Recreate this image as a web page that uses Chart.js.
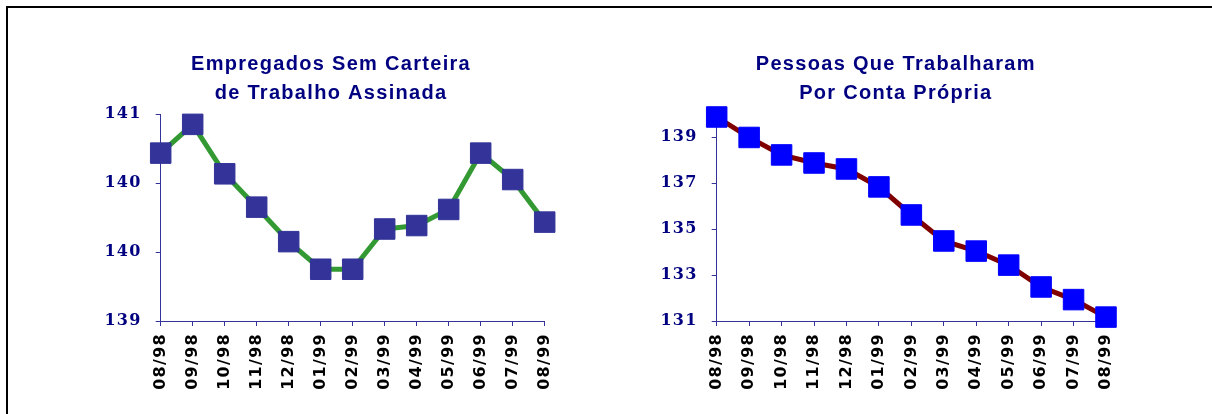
<!DOCTYPE html>
<html>
<head>
<meta charset="utf-8">
<title>Empregados Sem Carteira / Conta Própria</title>
<script src="https://cdn.jsdelivr.net/npm/chart.js@4.4.0/dist/chart.umd.min.js"></script>
<style>
    html, body { margin: 0; padding: 0; background: #fff; }
    body { width: 1212px; height: 414px; position: relative; overflow: hidden; }
    #frame {
        position: absolute; left: 6px; top: 6px; width: 1300px; height: 500px;
        border-top: 2px solid #000; border-left: 2px solid #000;
    }
    .box { position: absolute; top: 0; width: 606px; height: 414px; }
    #left-box { left: 0; }
    #right-box { left: 606px; }
</style>
</head>
<body>
<div id="frame"></div>
<div class="box" id="left-box"><canvas id="chart-left" width="606" height="414"></canvas></div>
<div class="box" id="right-box"><canvas id="chart-right" width="606" height="414"></canvas></div>
<script>
// Data
const months = ['08/98', '09/98', '10/98', '11/98', '12/98', '01/99', '02/99',
    '03/99', '04/99', '05/99', '06/99', '07/99', '08/99'];
const semCarteira = [140.46, 140.71, 140.28, 139.99, 139.69, 139.45, 139.45,
    139.80, 139.83, 139.97, 140.46, 140.23, 139.86];
const contaPropria = [139.87, 138.98, 138.22, 137.87, 137.61, 136.83, 135.61,
    134.48, 134.04, 133.43, 132.48, 131.93, 131.17];
const leftTicks = [139.0, 139.6, 140.2, 140.8];
const rightTicks = [131, 133, 135, 137, 139];
const leftTitle = ['Empregados Sem Carteira', 'de Trabalho Assinada'];
const rightTitle = ['Pessoas Que Trabalharam', 'Por Conta Própria'];

const NAVY = '#000080';
const AXIS = '#333399';

// Excel-like wide lettering
const spacingPlugin = {
    id: 'spacing',
    beforeDraw(chart) {
        if ('letterSpacing' in chart.ctx) chart.ctx.letterSpacing = '1.3px';
    }
};

function makeChart(id, opts) {
    const ctx = document.getElementById(id).getContext('2d');
    return new Chart(ctx, {
        type: 'line',
        data: {
            labels: months,
            datasets: [{
                data: opts.values,
                borderColor: opts.lineColor,
                borderWidth: 5,
                tension: 0,
                pointStyle: 'rect',
                pointRadius: 14.5,
                pointHoverRadius: 14.5,
                pointBackgroundColor: opts.markerColor,
                pointBorderColor: opts.markerColor,
                pointBorderWidth: 1,
                clip: false
            }]
        },
        options: {
            responsive: false,
            animation: false,
            layout: { padding: opts.padding },
            plugins: {
                legend: { display: false },
                tooltip: { enabled: false },
                title: {
                    display: true,
                    text: opts.title,
                    color: NAVY,
                    font: { family: 'Arial, "Liberation Sans", sans-serif', size: 20, weight: 'bold', lineHeight: 1.45 },
                    padding: { top: 50, bottom: 6 }
                }
            },
            scales: {
                x: {
                    offset: false,
                    grid: { display: true, drawOnChartArea: false, drawTicks: true, tickLength: 5, color: AXIS },
                    border: { display: true, color: AXIS, width: 1 },
                    ticks: {
                        autoSkip: false,
                        minRotation: 90,
                        maxRotation: 90,
                        padding: 7,
                        color: '#000',
                        font: { family: '"DejaVu Sans", sans-serif', size: 16, weight: 'bold' }
                    },
                    afterFit: (scale) => { scale.height = 80; }
                },
                y: {
                    min: opts.min,
                    max: opts.max,
                    grid: { display: true, drawOnChartArea: false, drawTicks: true, tickLength: 5, color: AXIS },
                    border: { display: true, color: AXIS, width: 1 },
                    afterBuildTicks: (scale) => {
                        scale.ticks = opts.ticks.map(v => ({ value: v }));
                    },
                    ticks: {
                        padding: 14,
                        color: NAVY,
                        font: { family: '"DejaVu Serif", serif', size: 16, weight: 'bold' },
                        callback: (v) => Math.round(v)
                    },
                    afterFit: (scale) => { scale.width = opts.yWidth; }
                },
                // empty spacer on the right so the title sits where the original has it
                spacer: {
                    axis: 'y',
                    position: 'right',
                    min: opts.min,
                    max: opts.max,
                    grid: { display: false },
                    border: { display: false },
                    ticks: { display: false },
                    afterFit: (scale) => { scale.width = opts.spacerWidth; }
                }
            }
        },
        plugins: [spacingPlugin]
    });
}

makeChart('chart-left', {
    values: semCarteira,
    title: leftTitle,
    lineColor: '#339933',
    markerColor: '#333399',
    ticks: leftTicks,
    min: leftTicks[0],
    max: leftTicks[leftTicks.length - 1],
    yWidth: 60.7,
    spacerWidth: 17.3,
    padding: { left: 100, right: 44, top: 0, bottom: 13 }
});

makeChart('chart-right', {
    values: contaPropria,
    title: rightTitle,
    lineColor: '#800000',
    markerColor: '#0000ff',
    ticks: rightTicks,
    min: 131,
    max: 140,
    yWidth: 60.7,
    spacerWidth: 29.6,
    padding: { left: 50, right: 76.4, top: 0, bottom: 13 }
});
</script>
</body>
</html>
